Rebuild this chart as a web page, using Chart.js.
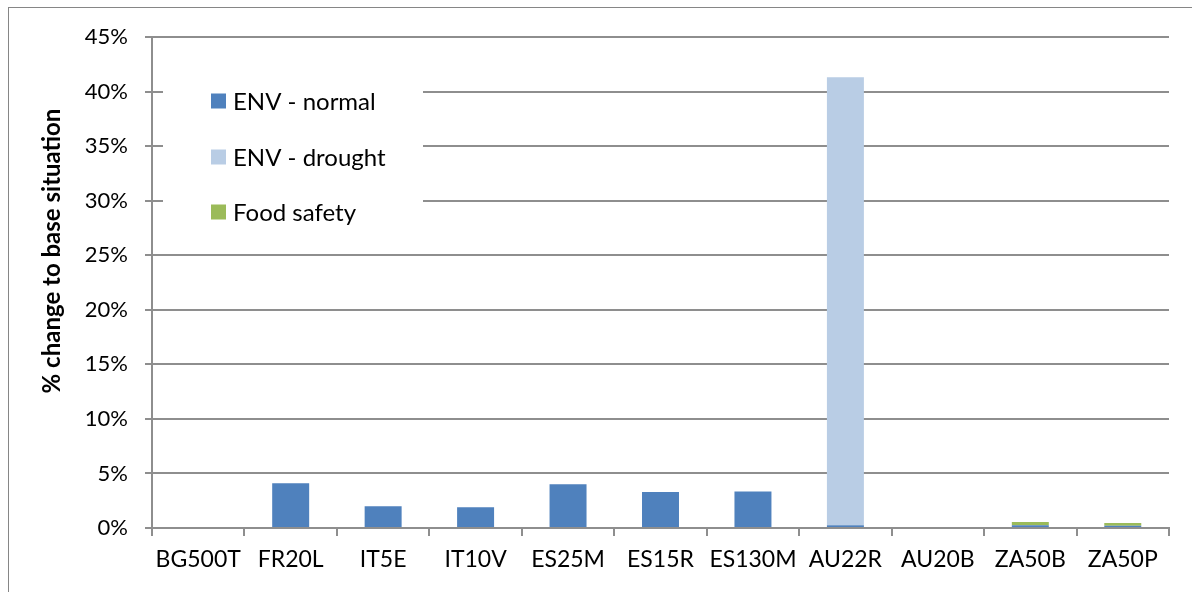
<!DOCTYPE html>
<html>
<head>
<meta charset="utf-8">
<script src="https://cdn.jsdelivr.net/npm/chart.js@4/dist/chart.umd.min.js"></script>
<style>
  html, body { margin: 0; padding: 0; background: #fff; }
  #wrap { width: 1192px; height: 592px; position: relative; }
</style>
</head>
<body>
<div id="wrap"><canvas id="c" width="1192" height="592"></canvas></div>
<script>
// Farm types on the x axis
const categories = ['BG500T', 'FR20L', 'IT5E', 'IT10V', 'ES25M', 'ES15R', 'ES130M', 'AU22R', 'AU20B', 'ZA50B', 'ZA50P'];

// % change to base situation, stacked per scenario
const envNormal  = [0, 4.1, 2.0, 1.9, 4.0, 3.3, 3.35, 0.25, 0, 0.25, 0.2];
const envDrought = [0.1, 0, 0, 0, 0, 0, 0, 41.05, 0, 0, 0];
const foodSafety = [0, 0, 0, 0, 0, 0, 0, 0, 0, 0.3, 0.25];

const seriesNames = ['ENV - normal', 'ENV - drought', 'Food safety'];
const yTitle = '% change to base situation';
const yTicks = { min: 0, max: 45, step: 5 };

const FONT = 'Lato, "Open Sans", "Liberation Sans", sans-serif';
const GRID = '#8e8e8e';
const TEXT = '#000000';

// Legend boxed inside the plot, on a white panel over the gridlines
const insideLegend = {
  id: 'insideLegend',
  beforeDatasetsDraw(chart) {
    const ctx = chart.ctx;
    ctx.save();
    ctx.fillStyle = '#ffffff';
    ctx.fillRect(163, 62, 260, 176);
    const rows = [101, 157, 212];
    ctx.font = '24px ' + FONT;
    ctx.textBaseline = 'middle';
    chart.data.datasets.forEach((ds, i) => {
      ctx.fillStyle = ds.backgroundColor;
      ctx.fillRect(211, rows[i] - 7.5, 15, 15);
      ctx.fillStyle = TEXT;
      ctx.fillText(ds.label, 233, rows[i] + 1);
    });
    ctx.restore();
  }
};

// Rotated y-axis title and the outer frame of the chart
const decorations = {
  id: 'decorations',
  afterDraw(chart) {
    const ctx = chart.ctx;
    ctx.save();
    ctx.translate(52, 251);
    ctx.rotate(-Math.PI / 2);
    ctx.font = 'bold 24px ' + FONT;
    ctx.fillStyle = TEXT;
    ctx.textAlign = 'center';
    ctx.textBaseline = 'middle';
    ctx.fillText(yTitle, 0, 0);
    ctx.restore();

    ctx.save();
    ctx.strokeStyle = '#868686';
    ctx.lineWidth = 1;
    ctx.strokeRect(8.5, 7.5, 1400, 800);
    ctx.restore();
  }
};

new Chart(document.getElementById('c'), {
  type: 'bar',
  data: {
    labels: categories,
    datasets: [
      { label: seriesNames[0], data: envNormal,  backgroundColor: '#4F81BD' },
      { label: seriesNames[1], data: envDrought, backgroundColor: '#B9CDE5' },
      { label: seriesNames[2], data: foodSafety, backgroundColor: '#9BBB59' }
    ]
  },
  options: {
    responsive: false,
    animation: false,
    devicePixelRatio: 1,
    layout: { padding: { top: 37, right: 23, bottom: 0, left: 0 } },
    datasets: { bar: { categoryPercentage: 1.0, barPercentage: 0.4, borderWidth: 0 } },
    plugins: {
      legend: { display: false },
      tooltip: { enabled: false }
    },
    scales: {
      x: {
        stacked: true,
        offset: true,
        grid: { offset: true, drawOnChartArea: false, drawTicks: true, tickLength: 8, color: GRID, lineWidth: 2 },
        border: { display: true, color: GRID, width: 2 },
        ticks: { color: TEXT, font: { family: FONT, size: 23 }, padding: 10, maxRotation: 0, autoSkip: false },
        afterFit(scale) { scale.height = 64; }
      },
      y: {
        stacked: true,
        min: yTicks.min,
        max: yTicks.max,
        grid: { color: GRID, lineWidth: 2, drawTicks: true, tickLength: 7 },
        border: { display: true, color: GRID, width: 2 },
        ticks: {
          stepSize: yTicks.step,
          color: TEXT,
          font: { family: FONT, size: 22 },
          padding: 17,
          callback: v => v + '%'
        },
        afterFit(scale) { scale.width = 152; }
      }
    }
  },
  plugins: [insideLegend, decorations]
});
</script>
</body>
</html>
